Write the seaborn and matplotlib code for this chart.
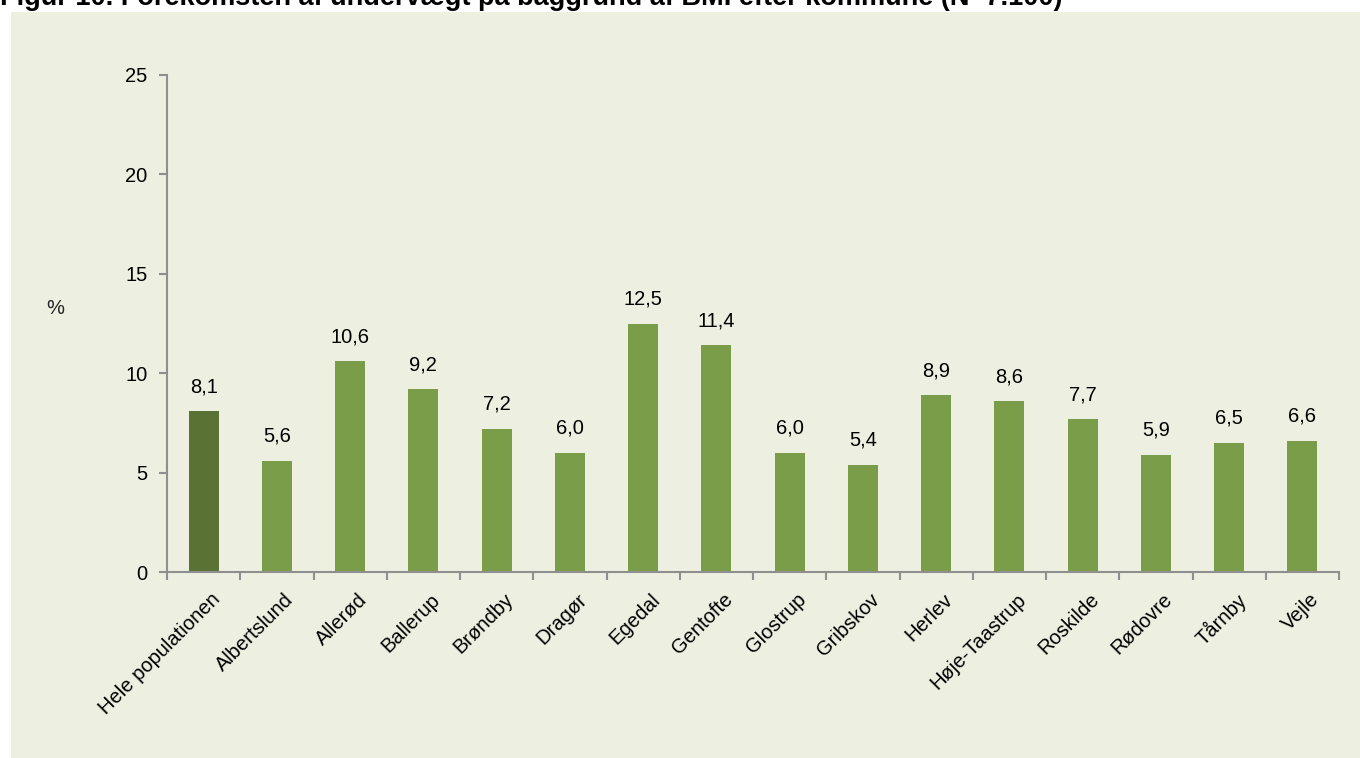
import matplotlib
matplotlib.use("Agg")
import matplotlib.pyplot as plt
from matplotlib.patches import Rectangle
from matplotlib.ticker import MultipleLocator, FixedLocator
from matplotlib.transforms import ScaledTranslation
import seaborn as sns
import pandas as pd

# Data
kommuner = ["Hele populationen", "Albertslund", "Allerød", "Ballerup", "Brøndby",
            "Dragør", "Egedal", "Gentofte", "Glostrup", "Gribskov", "Herlev",
            "Høje-Taastrup", "Roskilde", "Rødovre", "Tårnby", "Vejle"]
andel = [8.1, 5.6, 10.6, 9.2, 7.2, 6.0, 12.5, 11.4, 6.0, 5.4, 8.9, 8.6, 7.7, 5.9, 6.5, 6.6]
titel = "Figur 10. Forekomsten af undervægt på baggrund af BMI efter kommune (N=7.100)"

bg = "#EDEFE0"
dark_green = "#5A7335"
green = "#7A9D4A"
axis_grey = "#8F8F8F"
fs = 14.5

sns.set_theme(style="white")
plt.rcParams["font.family"] = ["Liberation Sans", "DejaVu Sans"]

W, H = 1360, 758
fig = plt.figure(figsize=(W / 100, H / 100), dpi=100)
fig.patch.set_facecolor("white")

# Beige panel behind the chart
fig.patches.append(Rectangle((11 / W, 0), 1 - 11 / W, 1 - 12 / H,
                             transform=fig.transFigure, facecolor=bg,
                             edgecolor="none", zorder=-1))

fig.text(0, 1 - 5 / H, titel, ha="left", va="baseline",
         fontsize=19.5, fontweight="bold", color="black")

ax = fig.add_axes([167 / W, 1 - 572 / H, (1339 - 167) / W, (572 - 75) / H])
ax.set_zorder(2)
ax.set_facecolor("none")

df = pd.DataFrame({"kommune": kommuner, "andel": andel})
palette = {k: (dark_green if i == 0 else green) for i, k in enumerate(kommuner)}
sns.barplot(data=df, x="kommune", y="andel", hue="kommune", palette=palette,
            width=0.41, legend=False, saturation=1, linewidth=0, ax=ax, zorder=2)

for i, v in enumerate(andel):
    ax.text(i, v + 0.75, f"{v:.1f}".replace(".", ","), ha="center", va="bottom",
            fontsize=fs, color="black")

ax.set_xlim(-0.5, len(kommuner) - 0.5)
ax.set_ylim(0, 25)
ax.yaxis.set_major_locator(MultipleLocator(5))
ax.set_xlabel("")
ax.set_ylabel("")

for side in ["top", "right"]:
    ax.spines[side].set_visible(False)
for side in ["left", "bottom"]:
    ax.spines[side].set_color(axis_grey)
    ax.spines[side].set_linewidth(1.5)

ax.tick_params(axis="y", which="major", direction="out", length=6, width=1.5,
               color=axis_grey, labelsize=fs, labelcolor="black", pad=8, left=True)
ax.set_xticks(range(len(kommuner)))
ax.set_xticklabels(kommuner, rotation=45, ha="right", rotation_mode="anchor")
ax.tick_params(axis="x", which="major", length=0, labelsize=fs,
               labelcolor="black", pad=13)
shift = ScaledTranslation(7 / 100, 0, fig.dpi_scale_trans)
for lab in ax.get_xticklabels():
    lab.set_transform(lab.get_transform() + shift)
ax.xaxis.set_minor_locator(FixedLocator([i - 0.5 for i in range(len(kommuner) + 1)]))
ax.tick_params(axis="x", which="minor", direction="out", length=6, width=1.5,
               color=axis_grey, bottom=True)

fig.text(55 / W, 1 - 309 / H, "%", ha="center", va="center", fontsize=fs)

fig.savefig("out.png", dpi=100, facecolor=fig.get_facecolor())
